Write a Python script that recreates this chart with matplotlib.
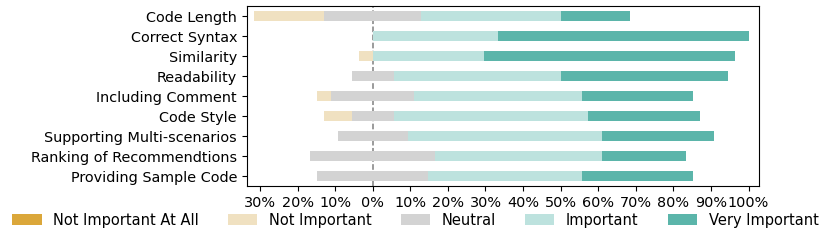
import matplotlib
matplotlib.use('Agg')
import matplotlib.pyplot as plt
import numpy as np
from matplotlib.ticker import FixedLocator, FuncFormatter

categories = ['Code Length', 'Correct Syntax', 'Similarity', 'Readability',
              'Including Comment', 'Code Style', 'Supporting Multi-scenarios',
              'Ranking of Recommendtions', 'Providing Sample Code']
levels = ['Not Important At All', 'Not Important', 'Neutral', 'Important', 'Very Important']

# answer counts per level (27 respondents)
not_at_all = [0, 0, 0, 0, 0, 0, 0, 0, 0]
not_important = [5, 0, 1, 0, 1, 2, 0, 0, 0]
neutral = [7, 0, 0, 3, 6, 3, 5, 9, 8]
important = [10, 9, 8, 12, 12, 14, 14, 12, 11]
very_important = [5, 18, 18, 12, 8, 8, 8, 6, 8]

colors = ['#DBA73A', '#F0E1C1', '#D3D3D3', '#BDE2DE', '#5BB5AA']

counts = np.array([not_at_all, not_important, neutral, important, very_important], dtype=float)
pct = counts / counts.sum(axis=0)

fig = plt.figure(figsize=(8.31, 2.41), dpi=100)
ax = fig.add_axes([0.297, 0.228, 0.616, 0.747])

y = np.arange(len(categories))
left = -(pct[0] + pct[1] + pct[2] / 2)
for i in range(len(levels)):
    ax.barh(y, pct[i], left=left, height=0.5, color=colors[i], label=levels[i], zorder=2)
    left = left + pct[i]

# 中线放在条形下面
ax.axvline(0, ls='--', color='gray', lw=1.1, zorder=1)
ax.set_yticks(y)
ax.set_yticklabels(categories, fontsize=10.4)
ax.set_ylim(8.48, -0.52)
ax.set_xlim(-0.335, 1.027)
ax.xaxis.set_major_locator(FixedLocator(np.arange(-0.3, 1.01, 0.1)))
ax.xaxis.set_major_formatter(FuncFormatter(lambda v, p: '%d%%' % round(abs(v) * 100)))
ax.tick_params(axis='x', labelsize=10.4)

handles, labels = ax.get_legend_handles_labels()
fig.legend(handles, labels, loc='center', ncol=5, frameon=False, fontsize=10.5,
           bbox_to_anchor=(0.5, 0.087), columnspacing=2.0, handlelength=2.0)

fig.savefig('out.png', dpi=100)
